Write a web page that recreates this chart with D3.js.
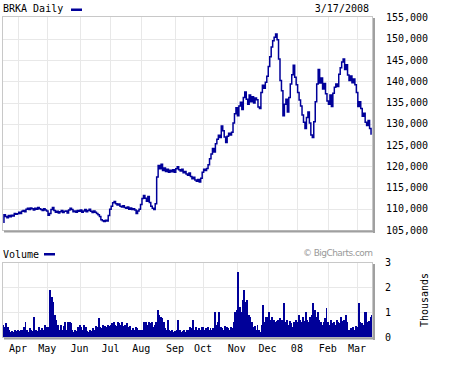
<!DOCTYPE html>
<html>
<head>
<meta charset="utf-8">
<script src="https://cdn.jsdelivr.net/npm/d3@7"></script>
<style>
  body { margin: 0; background: #fff; }
  text { font-family: "DejaVu Sans Mono", monospace; font-size: 10px; fill: #000; }
</style>
</head>
<body>
<div id="main"></div>
<script>
// trading days Mar 19 2007 - Mar 17 2008 (market holidays skipped)
const holidays = ['2007-04-06', '2007-05-28', '2007-07-04', '2007-09-03', '2007-11-22',
                  '2007-12-25', '2008-01-01', '2008-01-21', '2008-02-18'];

// daily close, in thousands of dollars
const closeK = [
  106.8, 108.6, 108.2, 107.9, 108.4, 108.1, 108.5, 108.3, 108.9, 108.7,                        // Mar
  108.8, 109.2, 108.9, 109.4, 109.6, 109.3, 109.9, 110.1, 109.8, 110.2,
  110.0, 109.7, 110.1, 109.9, 110.3, 110.0, 109.8, 109.6, 110.0, 109.7,                        // Apr
  109.5, 108.5, 108.9, 109.8, 110.3, 109.6, 109.2, 109.4, 109.0, 109.3,
  109.6, 109.1, 109.4, 109.5, 109.0, 109.7, 110.1, 109.8, 109.3, 109.5, 109.2, 109.6,          // May
  109.4, 109.7, 109.2, 109.5, 109.8, 109.3, 109.6, 109.9, 109.4, 109.1,
  109.5, 109.2, 108.9, 108.6, 108.2, 107.4, 107.2, 107.0, 107.3, 107.1, 108.4,                 // Jun
  109.9, 110.6, 111.4, 111.7, 111.2, 110.9, 111.1, 110.6, 110.4, 110.7,
  110.3, 110.1, 110.4, 109.9, 110.2, 109.8, 110.0, 109.7, 108.9, 109.5, 109.9,                 // Jul
  111.0, 112.4, 113.1, 112.5, 111.8, 112.9, 111.5, 110.6, 110.1, 109.8,
  111.2, 117.5, 120.2, 119.4, 120.5, 119.0, 119.6, 118.8, 119.3, 118.6, 119.1, 118.7, 119.2,   // Aug
  118.6, 119.4, 119.9, 119.2, 118.9, 119.3, 118.5, 118.8, 118.2, 117.9,
  118.4, 117.6, 117.1, 117.4, 116.8, 116.5, 116.9, 116.3, 117.2,                               // Sep
  118.6, 119.3, 119.0, 119.5, 120.4, 121.8, 122.9, 124.2, 123.4, 125.3,
  126.4, 127.3, 126.8, 129.5, 128.4, 126.9, 125.6, 127.1, 127.8, 127.4, 128.0, 130.2, 132.4,   // Oct
  133.8, 131.9, 134.2, 135.1, 133.4, 136.2, 137.5, 135.8, 134.6, 136.8,
  135.2, 136.4, 134.9, 136.1, 135.7, 134.0, 133.6, 137.4, 139.1, 138.4, 139.8,                 // Nov
  141.2, 143.5, 145.8, 148.1, 149.6, 150.4, 151.2, 149.8, 145.3, 140.2,
  137.8, 131.9, 134.6, 135.8, 132.8, 136.2, 139.4, 141.6, 143.8, 141.0,                        // Dec
  139.2, 137.4, 135.6, 134.2, 132.1, 130.4, 128.9, 131.5, 132.8, 130.2,
  127.4, 126.8, 130.5, 135.2, 139.4, 142.8, 139.6, 140.8, 138.2, 139.5, 137.1,                 // Jan
  135.4, 134.6, 136.8, 134.1, 137.2, 138.6, 139.4, 138.8, 141.7, 143.2,
  144.6, 145.3, 142.8, 143.9, 141.5, 140.2, 141.3, 139.7, 140.6, 139.2,                        // Feb
  137.4, 134.1, 135.2, 133.6, 131.8, 132.5, 130.4, 129.6, 130.8, 128.9, 127.6                  // Mar
];

// daily volume, in thousands of shares
const volumeK = [
  0.5, 0.4, 0.55, 0.4, 0.3, 0.2, 0.25, 0.2, 0.3, 0.25,
  0.3, 0.25, 0.3, 0.3, 0.4, 0.6, 0.3, 0.2, 0.35, 0.3, 0.25, 0.8, 0.3, 0.25, 0.4, 0.3, 0.35, 0.3, 0.5, 0.4,
  0.4, 0.35, 1.9, 1.6, 1.4, 0.9, 0.7, 0.5, 0.3, 0.5, 0.3, 0.45, 0.6, 0.3, 0.6, 0.6, 0.55, 0.3, 0.2, 0.3, 0.25, 0.4,
  0.5, 0.4, 0.3, 0.5, 0.4, 0.25, 0.2, 0.3, 0.25, 0.35, 0.3, 0.45, 0.4, 0.75, 0.4, 0.35, 0.5, 0.45, 0.4, 0.5, 0.45,
  0.5, 0.55, 0.6, 0.5, 0.45, 0.6, 0.55, 0.5, 0.6, 0.45, 0.5, 0.55, 0.4, 0.45, 0.3, 0.35, 0.3, 0.4, 0.35, 0.3, 0.3,
  0.3, 0.3, 0.6, 0.6, 0.5, 0.6, 0.55, 0.6, 0.4, 0.5, 0.6, 1.1, 0.9, 0.8, 0.75, 0.6, 0.35, 0.3, 0.7, 0.3, 0.25, 0.3, 0.2,
  0.25, 0.3, 0.7, 0.3, 0.2, 0.25, 0.3, 0.2, 0.3, 0.3, 0.4, 0.35, 0.7, 0.3, 0.4, 0.3, 0.35, 0.3, 0.4,
  0.4, 0.3, 0.35, 0.4, 0.3, 0.35, 0.3, 0.35, 1.0, 0.5, 0.6, 1.0, 0.4, 0.35, 0.3, 0.45, 0.4, 0.35, 0.3, 0.4, 0.35, 0.6, 1.0,
  1.1, 2.6, 1.2, 1.0, 1.5, 1.9, 1.4, 1.5, 0.9, 0.8, 0.6, 0.4, 0.45, 0.3, 0.5, 0.3, 0.2, 0.5, 1.3, 0.6, 0.8,
  0.8, 1.0, 0.7, 0.8, 0.7, 0.6, 0.65, 0.7, 0.75, 0.6, 0.7, 1.35, 0.6, 0.7, 0.5, 0.65, 0.55, 0.4, 0.6, 0.7,
  0.6, 0.9, 0.7, 0.6, 0.8, 0.65, 1.0, 0.7, 0.6, 0.8, 0.9, 1.35, 1.1, 0.8, 1.0, 0.7, 0.6, 0.5, 0.6, 0.75, 1.15,
  0.6, 0.5, 0.7, 0.55, 0.6, 0.5, 0.7, 0.6, 0.55, 0.8, 0.65, 0.7, 0.9, 0.6, 0.3, 0.2, 0.35, 0.4, 0.3, 0.45,
  0.4, 1.35, 0.6, 0.55, 0.5, 1.0, 1.0, 0.6, 0.65, 0.8, 0.9
];

const monthLabels = ['Apr', 'May', 'Jun', 'Jul', 'Aug', 'Sep', 'Oct', 'Nov', 'Dec', '08', 'Feb', 'Mar'];
const priceTicks = [105, 110, 115, 120, 125, 130, 135, 140, 145, 150, 155];
const volumeTicks = [0, 1, 2, 3];

const navy = '#000099', grid = '#e8e8e8';
const width = 452, height = 366;

const parse = d3.timeParse('%Y-%m-%d'), fmt = d3.timeFormat('%Y-%m-%d');
const days = d3.timeDay.range(parse('2007-03-19'), parse('2008-03-18'))
    .filter(d => d.getDay() !== 0 && d.getDay() !== 6 && !holidays.includes(fmt(d)));

// first trading day of each new month
const monthStarts = days.map((d, i) => i).filter(i => i > 0 && days[i].getMonth() !== days[i - 1].getMonth());

const x = d3.scaleBand().domain(d3.range(days.length)).range([2.5, 372.5]);
const cx = i => x(i) + x.bandwidth() / 2;
const y = d3.scaleLinear().domain([105, 155]).range([230, 17.75]);
const vy = d3.scaleLinear().domain([0, 3]).range([337, 262]);

let svg = d3.select('#main').append('svg')
    .attr('width', width)
    .attr('height', height);

function panel(top, bottom, hTicks, yScale) {
    const g = svg.append('g');
    g.selectAll('.hg').data(hTicks).enter().append('line')
        .attr('x1', 3).attr('x2', 373)
        .attr('y1', d => Math.round(yScale(d)) + 0.5).attr('y2', d => Math.round(yScale(d)) + 0.5)
        .attr('stroke', grid);
    g.selectAll('.vg').data(monthStarts).enter().append('line')
        .attr('x1', i => Math.round(cx(i)) + 0.5).attr('x2', i => Math.round(cx(i)) + 0.5)
        .attr('y1', top).attr('y2', bottom)
        .attr('stroke', grid);
    return g;
}

function frame(top, bottom) {
    svg.append('rect').attr('x', 2.5).attr('y', top + 0.5).attr('width', 370).attr('height', bottom - top)
        .attr('fill', 'none').attr('stroke', '#c8c8c8');
    svg.append('rect').attr('x', 373).attr('y', top + 2).attr('width', 2).attr('height', bottom - top + 1)
        .attr('fill', '#a0a0a0');
    svg.append('rect').attr('x', 4).attr('y', bottom + 0.5).attr('width', 371).attr('height', 2)
        .attr('fill', '#a0a0a0');
}

// price panel
panel(16, 230, priceTicks.slice(1, -1), y);
svg.append('path')
    .datum(closeK)
    .attr('d', d3.line().x((d, i) => cx(i)).y(d => y(d)).curve(d3.curveStep))
    .attr('fill', 'none')
    .attr('stroke', navy)
    .attr('stroke-width', 1.5);
frame(16, 230);

// volume panel
panel(262, 337, [1, 2], vy);
svg.append('g').selectAll('rect')
    .data(volumeK)
    .enter()
    .append('rect')
        .attr('x', (d, i) => x(i))
        .attr('width', x.bandwidth() + 0.5)
        .attr('y', d => vy(d))
        .attr('height', d => vy(0) - vy(d))
        .attr('fill', navy)
        .attr('shape-rendering', 'crispEdges');
frame(262, 337);

// titles and legends
svg.append('text').attr('x', 3).attr('y', 12).text('BRKA Daily');
svg.append('rect').attr('x', 71).attr('y', 8.5).attr('width', 11).attr('height', 2.5).attr('fill', navy);
svg.append('text').attr('x', 369).attr('y', 12).attr('text-anchor', 'end').text('3/17/2008');
svg.append('text').attr('x', 3).attr('y', 258).text('Volume');
svg.append('rect').attr('x', 44).attr('y', 253).attr('width', 11).attr('height', 2.5).attr('fill', navy);
svg.append('text').attr('x', 373).attr('y', 256).attr('text-anchor', 'end')
    .style('font-family', '"DejaVu Sans", sans-serif').style('font-size', '9px').style('fill', '#999')
    .attr('textLength', 70).text('\u00a9 BigCharts.com');

// right axes
svg.selectAll('.pt').data(priceTicks).enter().append('text')
    .attr('x', 386).attr('y', d => y(d) + 3.5)
    .text(d => d3.format(',')(d * 1000));
svg.selectAll('.vt').data(volumeTicks).enter().append('text')
    .attr('x', 385).attr('y', d => vy(d) + 3.5)
    .text(d => d);
svg.append('text').attr('transform', 'translate(428,300) rotate(-90)')
    .attr('text-anchor', 'middle').text('Thousands');

// month labels
svg.selectAll('.ml').data(monthStarts).enter().append('text')
    .attr('x', i => cx(i)).attr('y', 352)
    .attr('text-anchor', 'middle')
    .text((d, k) => monthLabels[k]);
</script>
</body>
</html>
